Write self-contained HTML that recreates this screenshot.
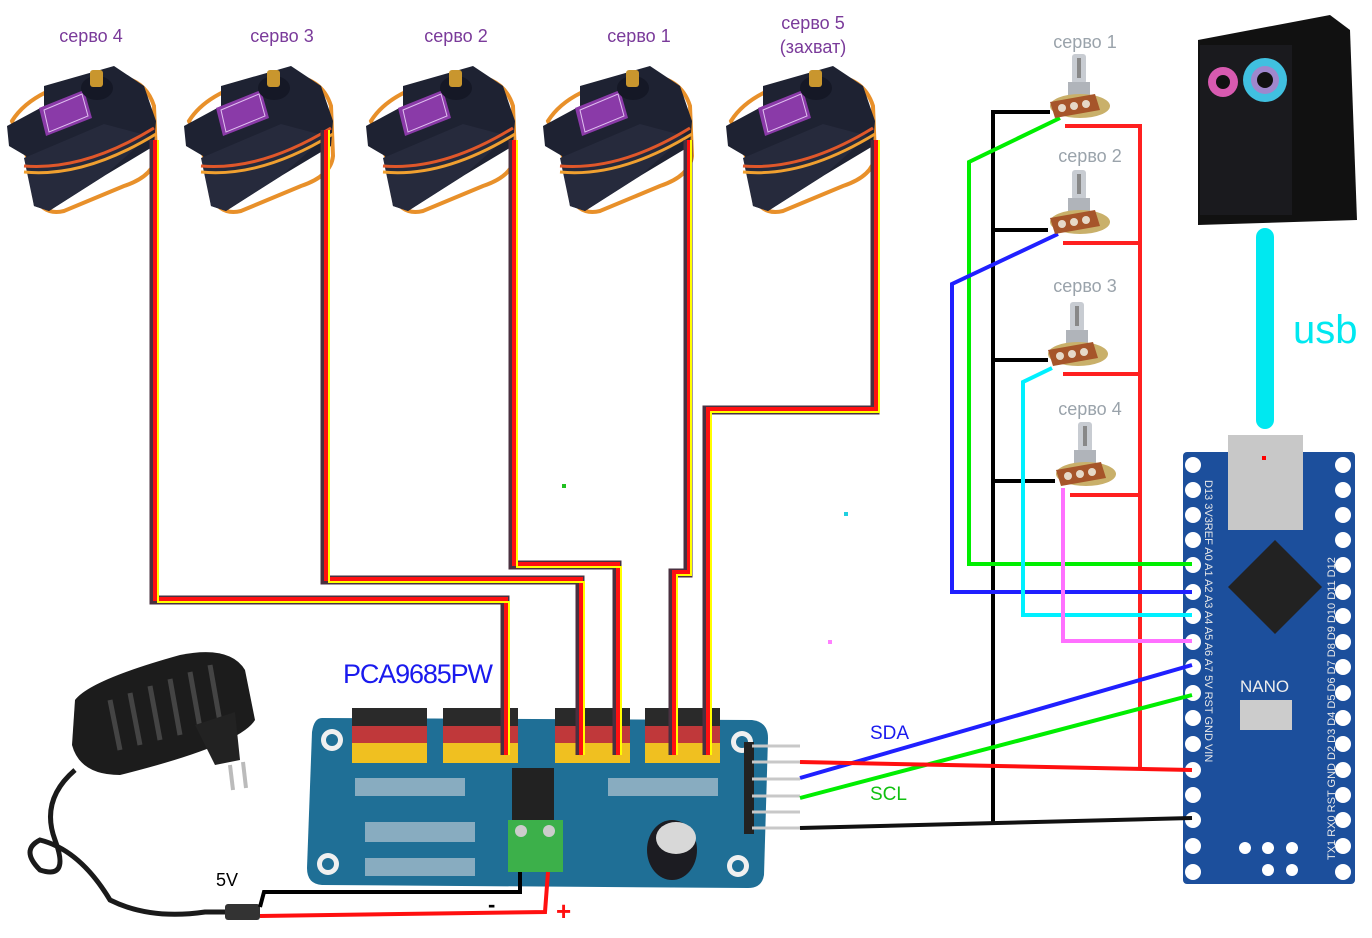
<!DOCTYPE html>
<html><head><meta charset="utf-8"><style>
body{margin:0;background:#fff;width:1372px;height:938px;overflow:hidden}
svg{display:block}
text{font-family:"Liberation Sans",sans-serif}
</style></head><body>
<svg width="1372" height="938" viewBox="0 0 1372 938" xmlns="http://www.w3.org/2000/svg">
<defs>
<g id="servo">
  <path d="M8,55 Q30,20 100,10 Q140,8 150,40 L152,90 Q150,110 120,120 L60,145 Q40,150 30,130 L25,95 Z" fill="none" stroke="#e8902a" stroke-width="4"/>
  <path d="M3,60 L40,40 L40,20 L110,0 L140,20 L152,55 L150,80 L100,110 L45,145 L30,140 L22,90 L5,80 Z" fill="#1e2232"/>
  <path d="M20,92 L100,58 L145,70 L100,110 L45,145 L30,140 Z" fill="#262a3c"/>
  <polygon points="35,42 80,24 88,52 42,70" fill="#8a3aa8"/>
  <polygon points="40,44 78,28 84,50 45,66" fill="none" stroke="#e0c0f0" stroke-width="1"/>
  <ellipse cx="93" cy="22" rx="16" ry="12" fill="#151826"/>
  <rect x="86" y="4" width="13" height="17" rx="3" fill="#c9962e"/>
  <path d="M20,100 Q80,105 150,62" fill="none" stroke="#e0572a" stroke-width="3"/>
  <path d="M20,106 Q80,112 152,68" fill="none" stroke="#f0a030" stroke-width="3"/>
</g>
<g id="pot">
  <rect x="22" y="0" width="14" height="30" rx="3" fill="#c8ccd2"/>
  <rect x="27" y="4" width="4" height="20" fill="#888"/>
  <rect x="18" y="28" width="22" height="16" fill="#b0b4ba"/>
  <ellipse cx="30" cy="52" rx="30" ry="12" fill="#c9b06a"/>
  <path d="M0,48 L45,40 L50,56 L5,64 Z" fill="#a6552a"/>
  <circle cx="12" cy="54" r="4" fill="#e6d9c8"/><circle cx="24" cy="52" r="4" fill="#e6d9c8"/><circle cx="36" cy="50" r="4" fill="#e6d9c8"/>
</g>
</defs>

<!-- servo labels -->
<g font-size="18" fill="#7a3a9a" text-anchor="middle">
<text x="91" y="42">серво 4</text>
<text x="282" y="42">серво 3</text>
<text x="456" y="42">серво 2</text>
<text x="639" y="42">серво 1</text>
<text x="813" y="29">серво 5</text>
<text x="813" y="53">(захват)</text>
</g>
<use href="#servo" x="4" y="66"/>
<use href="#servo" x="181" y="66"/>
<use href="#servo" x="363" y="66"/>
<use href="#servo" x="540" y="66"/>
<use href="#servo" x="723" y="66"/>

<!-- PCA board -->
<g>
<path d="M322,718 L752,720 Q768,722 768,738 L764,875 Q762,888 748,888 L322,885 Q307,884 307,868 L312,732 Q314,718 322,718 Z" fill="#1f6f96"/>
<g fill="#f0f0f0"><circle cx="332" cy="740" r="11"/><circle cx="742" cy="742" r="11"/><circle cx="328" cy="864" r="11"/><circle cx="738" cy="866" r="11"/></g>
<g fill="#1f6f96"><circle cx="332" cy="740" r="6"/><circle cx="742" cy="742" r="6"/><circle cx="328" cy="864" r="6"/><circle cx="738" cy="866" r="6"/></g>
<g fill="#2a2a2a"><rect x="352" y="708" width="75" height="20"/><rect x="443" y="708" width="75" height="20"/><rect x="555" y="708" width="75" height="20"/><rect x="645" y="708" width="75" height="20"/></g>
<g fill="#c0383a"><rect x="352" y="726" width="75" height="17"/><rect x="443" y="726" width="75" height="17"/><rect x="555" y="726" width="75" height="17"/><rect x="645" y="726" width="75" height="17"/></g>
<g fill="#f0c020"><rect x="352" y="743" width="75" height="20"/><rect x="443" y="743" width="75" height="20"/><rect x="555" y="743" width="75" height="20"/><rect x="645" y="743" width="75" height="20"/></g>
<rect x="512" y="768" width="42" height="62" fill="#222"/>
<g fill="#cfd6dc"><rect x="355" y="778" width="110" height="18" opacity=".6"/><rect x="608" y="778" width="110" height="18" opacity=".6"/><rect x="365" y="822" width="110" height="20" opacity=".6"/><rect x="365" y="858" width="110" height="18" opacity=".6"/></g>
<rect x="508" y="820" width="55" height="52" fill="#3cb04a"/>
<circle cx="521" cy="831" r="6" fill="#ccc"/><circle cx="549" cy="831" r="6" fill="#ccc"/>
<ellipse cx="672" cy="850" rx="25" ry="30" fill="#1c1c22"/><ellipse cx="676" cy="838" rx="20" ry="16" fill="#d8d8d8"/>
<rect x="744" y="742" width="10" height="92" fill="#222"/>
<g stroke="#c8c8c8" stroke-width="3"><line x1="752" y1="746" x2="800" y2="746"/><line x1="752" y1="762" x2="800" y2="762"/><line x1="752" y1="779" x2="800" y2="779"/><line x1="752" y1="796" x2="800" y2="796"/><line x1="752" y1="812" x2="800" y2="812"/><line x1="752" y1="828" x2="800" y2="828"/></g>
</g>
<text x="343" y="683" font-size="27" fill="#1a1aee" textLength="150">PCA9685PW</text>

<!-- servo wires -->
<g fill="none" stroke-linejoin="miter">
<g stroke="#4a3040" stroke-width="9">
<polyline points="154,140 154,600 505,600 505,755"/>
<polyline points="325,130 325,580 580,580 580,755"/>
<polyline points="513,140 513,565 617,565 617,755"/>
<polyline points="688,140 688,573 673,573 673,755"/>
<polyline points="875,140 875,410 707,410 707,755"/>
</g>
<g stroke="#ff1010" stroke-width="4">
<polyline points="155,140 155,599 506,599 506,755"/>
<polyline points="326,130 326,579 581,579 581,755"/>
<polyline points="514,140 514,564 618,564 618,755"/>
<polyline points="689,140 689,572 674,572 674,755"/>
<polyline points="876,140 876,409 708,409 708,755"/>
</g>
<g stroke="#ffff00" stroke-width="2">
<polyline points="158,140 158,602 509,602 509,755"/>
<polyline points="329,130 329,582 584,582 584,755"/>
<polyline points="517,140 517,567 621,567 621,755"/>
<polyline points="691,140 691,575 677,575 677,755"/>
<polyline points="879,140 879,412 711,412 711,755"/>
</g>
</g>
<rect x="562" y="484" width="4" height="4" fill="#20c020"/>
<rect x="844" y="512" width="4" height="4" fill="#20d0e0"/>
<rect x="828" y="640" width="4" height="4" fill="#ff80ff"/>

<!-- adapter -->
<g>
<path d="M75,700 Q90,680 180,655 Q230,645 245,670 L255,720 Q240,745 120,775 Q80,775 72,745 Z" fill="#1c1c1c"/>
<g stroke="#444" stroke-width="5"><line x1="110" y1="700" x2="120" y2="750"/><line x1="130" y1="693" x2="140" y2="745"/><line x1="150" y1="686" x2="160" y2="740"/><line x1="170" y1="679" x2="180" y2="735"/><line x1="190" y1="672" x2="200" y2="728"/><line x1="210" y1="665" x2="220" y2="722"/></g>
<path d="M195,725 L235,712 L240,760 L215,765 Z" fill="#222"/>
<line x1="230" y1="765" x2="233" y2="790" stroke="#bbb" stroke-width="4"/><line x1="243" y1="762" x2="246" y2="788" stroke="#bbb" stroke-width="4"/>
<path d="M75,770 Q40,800 55,840 Q70,880 40,870 Q20,850 40,840 Q80,850 110,900 Q150,920 205,912 L240,912" fill="none" stroke="#1a1a1a" stroke-width="5"/>
<rect x="225" y="904" width="35" height="16" rx="3" fill="#333"/>
</g>
<text x="216" y="886" font-size="18" fill="#000">5V</text>
<polyline points="260,907 264,892 520,892 520,872" fill="none" stroke="#000" stroke-width="4"/>
<polyline points="260,916 545,912 548,872" fill="none" stroke="#ff1010" stroke-width="4"/>
<text x="488" y="912" font-size="22" fill="#000" font-weight="bold">-</text>
<text x="556" y="920" font-size="26" fill="#ff1010" font-weight="bold">+</text>

<!-- computer -->
<g>
<path d="M1198,40 L1330,15 L1350,30 L1357,220 L1198,225 Z" fill="#111"/>
<rect x1="0" x="1200" y="45" width="92" height="170" fill="#1a1a1e"/>
<circle cx="1223" cy="82" r="15" fill="#d85ab0"/><circle cx="1223" cy="82" r="7" fill="#111"/>
<circle cx="1265" cy="80" r="22" fill="#40c0e0"/><circle cx="1265" cy="80" r="14" fill="#e060c0" opacity=".6"/><circle cx="1265" cy="80" r="8" fill="#111"/>
<line x1="1255" y1="245" x2="1275" y2="245"/>
</g>
<line x1="1265" y1="237" x2="1265" y2="420" stroke="#00e8f0" stroke-width="18" stroke-linecap="round"/>
<text x="1293" y="343" font-size="40" fill="#00e8f0">usb</text>

<!-- nano -->
<g>
<rect x="1183" y="452" width="172" height="432" rx="4" fill="#1c4f9c"/>
<rect x="1228" y="435" width="75" height="95" fill="#c8c8c8"/>
<rect x="1262" y="456" width="4" height="4" fill="#f00"/>
<polygon points="1275,540 1322,587 1275,634 1228,587" fill="#222"/>
<rect x="1240" y="700" width="52" height="30" fill="#ccc"/>
<text x="1240" y="692" font-size="17" fill="#eee">NANO</text>
<g fill="#fff">
<circle cx="1193" cy="465" r="8"/><circle cx="1193" cy="490" r="8"/><circle cx="1193" cy="515" r="8"/><circle cx="1193" cy="540" r="8"/><circle cx="1193" cy="565" r="8"/><circle cx="1193" cy="592" r="8"/><circle cx="1193" cy="616" r="8"/><circle cx="1193" cy="642" r="8"/><circle cx="1193" cy="667" r="8"/><circle cx="1193" cy="693" r="8"/><circle cx="1193" cy="718" r="8"/><circle cx="1193" cy="744" r="8"/><circle cx="1193" cy="770" r="8"/><circle cx="1193" cy="795" r="8"/><circle cx="1193" cy="820" r="8"/><circle cx="1193" cy="846" r="8"/><circle cx="1193" cy="872" r="8"/>
<circle cx="1343" cy="465" r="8"/><circle cx="1343" cy="490" r="8"/><circle cx="1343" cy="515" r="8"/><circle cx="1343" cy="540" r="8"/><circle cx="1343" cy="565" r="8"/><circle cx="1343" cy="592" r="8"/><circle cx="1343" cy="616" r="8"/><circle cx="1343" cy="642" r="8"/><circle cx="1343" cy="667" r="8"/><circle cx="1343" cy="693" r="8"/><circle cx="1343" cy="718" r="8"/><circle cx="1343" cy="744" r="8"/><circle cx="1343" cy="770" r="8"/><circle cx="1343" cy="795" r="8"/><circle cx="1343" cy="820" r="8"/><circle cx="1343" cy="846" r="8"/><circle cx="1343" cy="872" r="8"/>
<circle cx="1245" cy="848" r="6"/><circle cx="1268" cy="848" r="6"/><circle cx="1292" cy="848" r="6"/><circle cx="1268" cy="870" r="6"/><circle cx="1292" cy="870" r="6"/>
</g>
<g font-size="11" fill="#e8e8e8" font-family="Liberation Mono">
<text transform="translate(1205,480) rotate(90)">D13 3V3REF A0  A1  A2  A3  A4  A5  A6  A7  5V RST GND VIN</text>
<text transform="translate(1335,860) rotate(-90)">TX1 RX0 RST GND D2  D3  D4  D5  D6  D7  D8  D9 D10 D11 D12</text>
</g>
</g>

<!-- pot wiring -->
<g fill="none" stroke-width="4">
<polyline points="993,110 993,825" stroke="#000"/>
<polyline points="993,112 1050,112" stroke="#000"/>
<polyline points="993,230 1048,230" stroke="#000"/>
<polyline points="993,360 1048,360" stroke="#000"/>
<polyline points="993,481 1055,481" stroke="#000"/>
<polyline points="1065,126 1140,126 1140,770" stroke="#ff2020"/>
<polyline points="1063,243 1140,243" stroke="#ff2020"/>
<polyline points="1063,374 1140,374" stroke="#ff2020"/>
<polyline points="1070,495 1140,495" stroke="#ff2020"/>
<polyline points="1060,118 969,162 969,564 1192,564" stroke="#00ee00"/>
<polyline points="1058,234 952,284 952,592 1192,592" stroke="#2020ff"/>
<polyline points="1052,368 1023,382 1023,615 1192,615" stroke="#00f0ff"/>
<polyline points="1063,488 1063,641 1192,641" stroke="#ff70ff"/>
<polyline points="800,778 1192,665" stroke="#2020ff"/>
<polyline points="800,798 1192,695" stroke="#00ee00"/>
<polyline points="800,762 1192,770" stroke="#ff1010"/>
<polyline points="800,828 1192,818" stroke="#111"/>
</g>
<use href="#pot" x="1050" y="54"/>
<use href="#pot" x="1050" y="170"/>
<use href="#pot" x="1048" y="302"/>
<use href="#pot" x="1056" y="422"/>
<g font-size="18" fill="#9aa3ab" text-anchor="middle">
<text x="1085" y="48">серво 1</text>
<text x="1090" y="162">серво 2</text>
<text x="1085" y="292">серво 3</text>
<text x="1090" y="415">серво 4</text>
</g>
<text x="870" y="739" font-size="19" fill="#1a1aee">SDA</text>
<text x="870" y="800" font-size="19" fill="#10c010">SCL</text>
</svg>
</body></html>
